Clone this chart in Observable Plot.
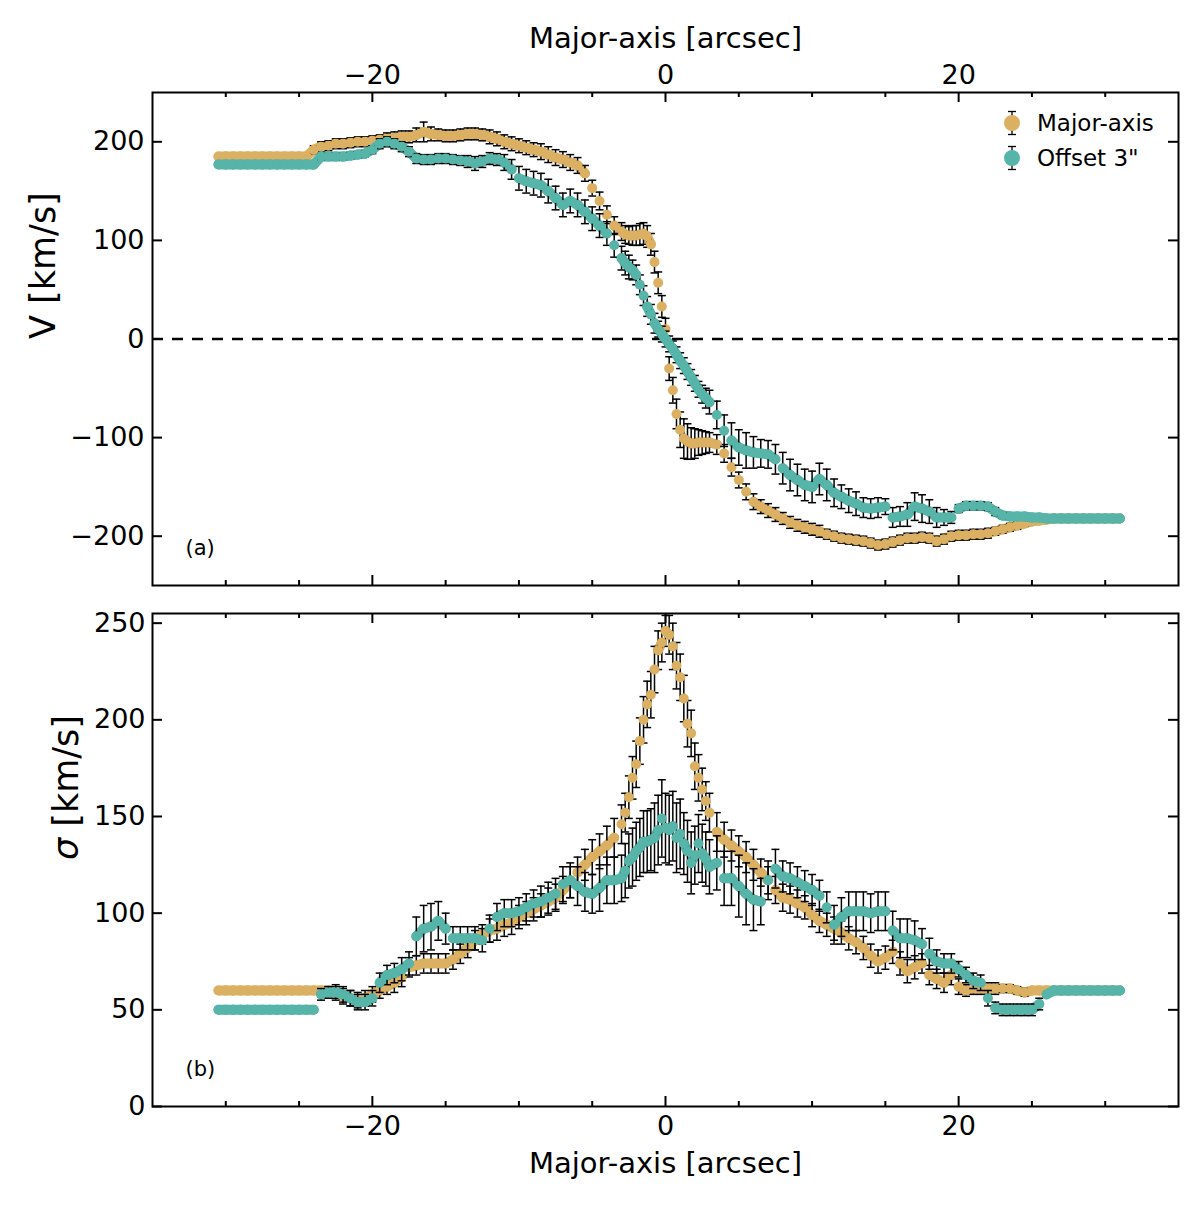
<!DOCTYPE html>
<html><head><meta charset="utf-8">
<script src="https://cdn.jsdelivr.net/npm/d3@7"></script>
<script src="https://cdn.jsdelivr.net/npm/@observablehq/plot@0.6"></script>
<style>
body{margin:0;background:#fff;font-family:"DejaVu Sans",sans-serif;}
#chart{position:relative;width:1200px;height:1205px;background:#fff;}
#chart > svg{display:block;}
.legend{position:absolute;left:1000px;top:105px;font-size:23px;color:#000;font-family:"DejaVu Sans",sans-serif;}
.legend .row{display:flex;align-items:center;height:35px;white-space:nowrap;}
.legend svg{margin-right:13px;display:block;}
</style></head><body><div id="chart"></div>
<script>
// ---------- data ----------
const seriesNames = ["Major-axis", "Offset 3\""];
const colorMajor = "#DCB062";
const colorOffset = "#56B4A8";

// position along the major axis [arcsec]
const xs = [
-30.5,-30,-29.5,-29,-28.5,-28,-27.5,-27,-26.5,-26,
-25.5,-25,-24.5,-24,-23.5,-23,-22.5,-22,-21.5,-21,
-20.5,-20,-19.5,-19,-18.5,-18,-17.5,-17,-16.5,-16,
-15.5,-15,-14.5,-14,-13.5,-13,-12.5,-12,-11.5,-11,
-10.5,-10,-9.5,-9,-8.5,-8,-7.5,-7,-6.5,-6,
-5.5,-5,-4.5,-4,-3.5,
-3,-2.75,-2.5,-2.25,-2,-1.75,-1.5,-1.25,-1,-0.75,
-0.5,-0.25,0,0.25,0.5,0.75,1,1.25,1.5,1.75,
2,2.25,2.5,2.75,3,
3.5,4,4.5,5,5.5,6,6.5,7,7.5,8,
8.5,9,9.5,10,10.5,11,11.5,12,12.5,13,
13.5,14,14.5,15,15.5,16,16.5,17,17.5,18,
18.5,19,19.5,20,20.5,21,21.5,22,22.5,23,
23.5,24,24.5,25,25.5,26,26.5,27,27.5,28,
28.5,29,29.5,30,30.5,31
];

// (a) velocity, major axis [km/s]
const vMajor = [
185,185,185,185,185,185,185,185,185,185,
185,185,185,192,195,196,198,198,199,200,
200,201,202,203,204,205,205,207,210,208,
207,206,206,207,208,208,207,205,203,200,
198,196,194,192,190,187,184,182,179,176,
168,153,140,126,115,
109,106,105,105,105,106,107,104,96,78,
57,33,10,-30,-52,-76,-92,-101,-104,-106,
-106,-105,-105,-105,-105,
-107,-116,-130,-143,-155,-165,-170,-174,-178,-182,
-186,-189,-191,-193,-195,-198,-200,-202,-203,-204,
-205,-207,-209,-208,-206,-204,-202,-202,-201,-202,
-205,-203,-200,-199,-199,-198,-198,-197,-195,-193,
-191,-189,-187,-185,-184,-183,-182,-182,-182,-182,
-182,-182,-182,-182,-182,-182
];
const eVMajor = [
0,0,0,0,0,0,0,0,0,0,
0,0,0,4,5,5,5,5,5,5,
5,5,5,6,6,6,6,7,10,7,
6,6,6,6,6,6,6,7,7,7,
7,7,7,7,8,8,8,8,8,8,
8,8,9,9,9,
9,9,9,10,10,11,11,11,11,11,
11,11,11,12,13,15,18,20,18,16,
15,13,12,11,10,
10,9,9,8,8,8,7,7,7,6,
6,6,6,6,6,5,5,5,5,5,
5,5,5,5,5,5,5,5,5,5,
5,5,5,5,5,5,5,5,4,4,
4,4,3,2,0,0,0,0,0,0,
0,0,0,0,0,0
];
// (a) velocity, offset 3" [km/s]
const vOffset = [
177,177,177,177,177,177,177,177,177,177,
177,177,177,177,185,185,185,185,186,187,
188,192,198,200,198,195,190,183,182,182,
183,183,182,181,180,178,180,183,182,179,
172,163,160,158,156,150,143,136,140,136,
129,122,115,107,95,
82,77,73,70,65,55,44,33,25,16,
10,5,0,-5,-10,-16,-22,-27,-33,-39,
-45,-51,-56,-60,-64,
-77,-93,-103,-110,-113,-115,-116,-117,-122,-131,
-138,-143,-148,-150,-142,-148,-156,-160,-164,-167,
-171,-172,-171,-170,-181,-180,-178,-170,-172,-175,
-181,-181,-181,-172,-169,-169,-169,-170,-175,-179,
-180,-180,-180,-181,-181,-182,-182,-182,-182,-182,
-182,-182,-182,-182,-182,-182
];
const eVOffset = [
0,0,0,0,0,0,0,0,0,0,
0,0,0,0,3,3,3,3,3,3,
3,4,5,5,5,5,5,5,5,5,
5,5,5,5,6,7,6,6,6,8,
10,12,12,12,12,12,12,12,12,12,
12,12,12,12,12,
12,12,12,10,10,10,10,10,10,10,
8,8,8,8,8,8,8,8,8,8,
8,8,9,10,12,
14,16,18,18,18,16,14,14,15,16,
16,16,16,16,16,16,14,12,12,12,
10,10,10,8,10,10,12,14,14,12,
10,8,6,4,4,4,4,4,4,3,
2,0,0,0,0,0,0,0,0,0,
0,0,0,0,0,0
];

// (b) velocity dispersion, major axis [km/s]
const sMajor = [
60,60,60,60,60,60,60,60,60,60,
60,60,60,60,60,60,59,57,56,55,
56,58,60,62,64,67,72,73,74,74,
74,74,76,79,82,86,89,91,92,94,
95,98,100,102,104,106,108,112,116,121,
125,129,132,135,139,
146,152,160,170,177,189,200,208,213,226,
236,240,246,244,238,228,222,211,198,193,
176,170,164,158,152,
142,138,135,132,129,125,121,117,112,108,
107,105,103,99,96,94,92,90,87,85,
82,78,75,77,80,74,70,72,74,68,
66,64,68,62,60,61,61,61,61,61,
61,60,59,60,60,60,60,60,60,60,
60,60,60,60,60,60
];
const eSMajor = [
0,0,0,0,0,0,0,0,0,0,
0,0,0,0,0,2,3,4,4,4,
4,4,4,4,5,5,5,5,5,5,
5,5,5,5,5,5,5,6,6,6,
6,6,6,6,6,7,7,7,8,8,
8,9,9,10,10,
10,10,11,11,12,12,12,12,12,12,
10,10,8,10,12,12,12,12,12,12,
12,12,11,10,10,
10,9,8,8,8,8,7,7,7,7,
7,7,6,6,6,6,6,6,6,6,
6,6,6,6,6,6,6,6,5,5,
5,5,5,4,3,3,3,3,3,2,
2,2,2,0,0,0,0,0,0,0,
0,0,0,0,0,0
];
// (b) velocity dispersion, offset 3" [km/s]
const sOffset = [
50,50,50,50,50,50,50,50,50,50,
50,50,50,50,58,59,59,58,56,54,
54,56,64,68,69,71,74,88,92,93,
96,92,87,87,87,87,86,92,98,100,
100,101,103,105,106,108,110,115,117,114,
111,110,113,117,117,
118,122,127,129,132,134,137,137,138,139,
143,149,144,143,145,139,141,136,132,126,
130,136,131,128,124,
126,118,118,114,110,107,106,117,123,119,
118,116,114,112,109,103,94,98,101,101,
101,100,101,101,91,87,87,86,84,79,
75,74,74,71,68,65,64,56,51,50,
50,50,50,50,53,58,60,60,60,60,
60,60,60,60,60,60
];
const eSOffset = [
0,0,0,0,0,0,0,0,0,0,
0,0,0,0,3,3,4,4,4,4,
4,4,5,5,5,6,6,10,12,12,
10,8,6,6,6,6,6,7,7,7,
7,7,7,7,8,8,8,9,9,10,
10,10,12,12,12,
12,14,14,15,15,15,16,16,16,18,
18,20,18,18,18,18,18,16,16,16,
15,15,15,14,14,
14,14,14,16,16,16,12,10,10,8,
8,8,8,8,8,8,10,10,10,10,
10,10,10,10,10,10,10,10,8,8,
6,5,5,4,4,4,4,4,3,3,
3,3,3,3,3,0,0,0,0,0,
0,0,0,0,0,0
];

// axes
const xDomain = [-35, 35];
const vDomain = [-250, 250];
const sDomain = [0, 255];
const xLabelTicks = [-20, 0, 20];
const xMinorTicks = [-30, -25, -15, -10, -5, 5, 10, 15, 25, 30];
const vTicks = [-200, -100, 0, 100, 200];
const sTicks = [0, 50, 100, 150, 200, 250];

// ---------- layout ----------
for (const [n, a] of Object.entries({vMajor, eVMajor, vOffset, eVOffset, sMajor, eSMajor, sOffset, eSOffset})) {
  if (a.length !== xs.length) console.error("length mismatch", n, a.length, xs.length);
}
const W = 1200, mL = 152, mR = 22;
const innerW = W - mL - mR;
const innerH = 493;
const majorLen = 10, minorLen = 5;
const font = '"DejaVu Sans", sans-serif';
const dotR = 5, barW = 1.5;

const capSymbol = {draw(ctx, size) { const w = Math.sqrt(size / Math.PI); ctx.moveTo(-w, 0); ctx.lineTo(w, 0); }};

function seriesMarks(vals, errs, color, thr) {
  const rows = xs.map((x, i) => ({x, v: vals[i], e: errs[i]}));
  const pairs = rows.slice(1).map((b, i) => ({a: rows[i], b})).filter(p => Math.abs(p.b.v - p.a.v) <= thr);
  const er = rows.filter(d => d.e > 0);
  return [
    Plot.link(pairs, {x1: p => p.a.x, y1: p => p.a.v, x2: p => p.b.x, y2: p => p.b.v,
      stroke: color, strokeWidth: 2 * dotR, strokeLinecap: "round"}),
    Plot.ruleX(er, {x: "x", y1: d => d.v - d.e, y2: d => d.v + d.e, stroke: "#000", strokeWidth: barW}),
    Plot.dot(er, {x: "x", y: d => d.v + d.e, symbol: capSymbol, r: 4, stroke: "#000", strokeWidth: barW, fill: "none"}),
    Plot.dot(er, {x: "x", y: d => d.v - d.e, symbol: capSymbol, r: 4, stroke: "#000", strokeWidth: barW, fill: "none"}),
    Plot.dot(rows, {x: "x", y: "v", r: dotR, fill: color, stroke: "none"})
  ];
}

function tickMarks(yTicks) {
  return [
    Plot.tickX(xLabelTicks, {x: d => d, insetBottom: innerH - majorLen, strokeWidth: 2}),
    Plot.tickX(xLabelTicks, {x: d => d, insetTop: innerH - majorLen, strokeWidth: 2}),
    Plot.tickX(xMinorTicks, {x: d => d, insetBottom: innerH - minorLen, strokeWidth: 2}),
    Plot.tickX(xMinorTicks, {x: d => d, insetTop: innerH - minorLen, strokeWidth: 2}),
    Plot.tickY(yTicks, {y: d => d, insetRight: innerW - majorLen, strokeWidth: 2}),
    Plot.tickY(yTicks, {y: d => d, insetLeft: innerW - majorLen, strokeWidth: 2})
  ];
}

const style = {fontFamily: font, fontSize: "27px", color: "#000", background: "#fff", overflow: "visible"};

const plotA = Plot.plot({
  width: W, height: 600, marginTop: 92, marginBottom: 15, marginLeft: mL, marginRight: mR,
  style,
  x: {domain: xDomain, axis: null},
  y: {domain: vDomain, axis: null},
  marks: [
    Plot.ruleY([0], {strokeDasharray: "11,9", strokeWidth: 2.5, stroke: "#000"}),
    ...seriesMarks(vMajor, eVMajor, colorMajor, 8),
    ...seriesMarks(vOffset, eVOffset, colorOffset, 8),
    ...tickMarks(vTicks),
    Plot.frame({stroke: "#000", strokeWidth: 2}),
    Plot.axisX({anchor: "top", ticks: xLabelTicks, tickSize: 0, tickPadding: 9, fontSize: 27, label: null}),
    Plot.axisY({anchor: "left", ticks: vTicks, tickSize: 0, tickPadding: 8, fontSize: 27, label: null}),
    Plot.text(["Major-axis [arcsec]"], {frameAnchor: "top", lineAnchor: "middle", dy: -54, fontSize: 29}),
    Plot.text(["V [km/s]"], {frameAnchor: "left", lineAnchor: "middle", dx: -109, rotate: -90, fontSize: 35}),
    Plot.text(["(a)"], {frameAnchor: "bottom-left", lineAnchor: "middle", dx: 33, dy: -37, textAnchor: "start", fontSize: 21})
  ]
});

const plotB = Plot.plot({
  width: W, height: 605, marginTop: 13, marginBottom: 99, marginLeft: mL, marginRight: mR,
  style,
  x: {domain: xDomain, axis: null},
  y: {domain: sDomain, axis: null},
  marks: [
    ...seriesMarks(sMajor, eSMajor, colorMajor, 4),
    ...seriesMarks(sOffset, eSOffset, colorOffset, 4),
    ...tickMarks(sTicks),
    Plot.frame({stroke: "#000", strokeWidth: 2}),
    Plot.axisX({anchor: "bottom", ticks: xLabelTicks, tickSize: 0, tickPadding: 9, fontSize: 27, label: null}),
    Plot.axisY({anchor: "left", ticks: sTicks, tickSize: 0, tickPadding: 7, fontSize: 27, label: null}),
    Plot.text(["Major-axis [arcsec]"], {frameAnchor: "bottom", lineAnchor: "middle", dy: 57, fontSize: 29}),
    Plot.text(["σ [km/s]"], {frameAnchor: "left", lineAnchor: "middle", dx: -86, rotate: -90, fontSize: 35}),
    Plot.text(["(b)"], {frameAnchor: "bottom-left", lineAnchor: "middle", dx: 33, dy: -37, textAnchor: "start", fontSize: 21})
  ]
});

// italic sigma, as in the original math text
d3.select(plotB).selectAll("text").filter(function() { return this.textContent === "σ [km/s]"; })
  .html('<tspan font-style="italic">σ</tspan> [km/s]');

const chart = document.getElementById("chart");
chart.appendChild(plotA);
chart.appendChild(plotB);

// legend
const legend = d3.select(chart).append("div").attr("class", "legend");
[[seriesNames[0], colorMajor], [seriesNames[1], colorOffset]].forEach(([name, color]) => {
  const row = legend.append("div").attr("class", "row");
  const s = row.append("svg").attr("width", 24).attr("height", 30);
  s.append("line").attr("x1", 12).attr("x2", 12).attr("y1", 3.5).attr("y2", 26.5).attr("stroke", "#000").attr("stroke-width", 1.3);
  s.append("line").attr("x1", 8).attr("x2", 16).attr("y1", 3.5).attr("y2", 3.5).attr("stroke", "#000").attr("stroke-width", 1.3);
  s.append("line").attr("x1", 8).attr("x2", 16).attr("y1", 26.5).attr("y2", 26.5).attr("stroke", "#000").attr("stroke-width", 1.3);
  s.append("circle").attr("cx", 12).attr("cy", 15).attr("r", 8).attr("fill", color);
  row.append("span").text(name);
});
</script>
</body></html>
